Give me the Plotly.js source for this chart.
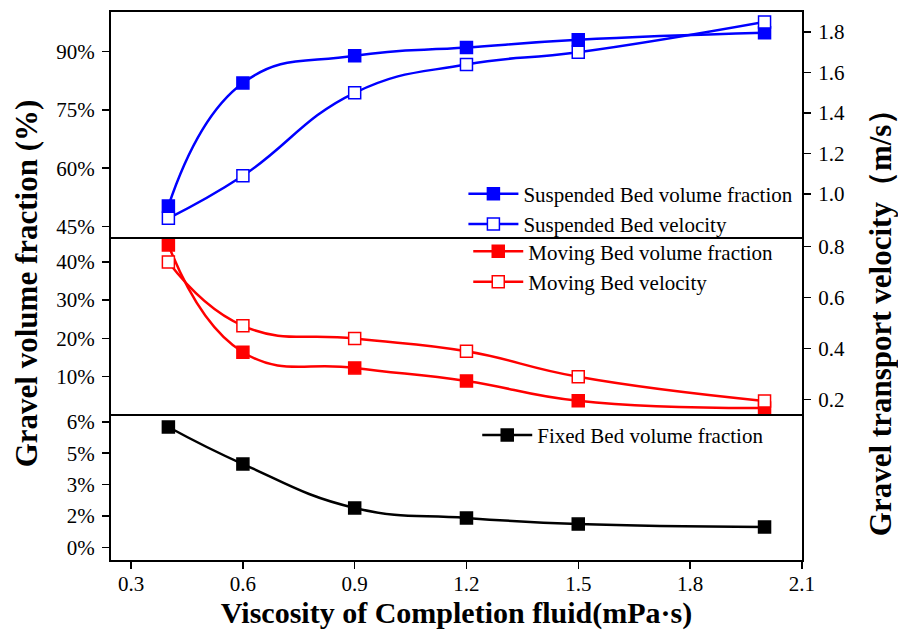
<!DOCTYPE html>
<html>
<head>
<meta charset="utf-8">
<script src="https://cdn.plot.ly/plotly-3.0.1.min.js"></script>
<style>
  html, body { margin: 0; padding: 0; background: #fff; }
  #chart { width: 898px; height: 635px; }
</style>
</head>
<body>
<div id="chart"></div>
<script>
// Completion-fluid viscosity (mPa·s)
const viscosity = [0.4, 0.6, 0.9, 1.2, 1.5, 2.0];

// Suspended bed: volume fraction and transport velocity (m/s)
const suspendedFraction = [0.503, 0.819, 0.889, 0.910, 0.930, 0.948];
const suspendedVelocity = [0.88, 1.09, 1.50, 1.64, 1.70, 1.85];

// Moving bed: volume fraction and transport velocity (m/s)
const movingFraction = [0.444, 0.164, 0.123, 0.089, 0.037, 0.018];
const movingVelocity = [0.74, 0.49, 0.44, 0.39, 0.29, 0.195];

// Fixed bed: volume fraction
const fixedFraction = [0.0575, 0.0398, 0.0188, 0.0140, 0.0111, 0.0097];

// Tick labels
const xTicks = [0.3, 0.6, 0.9, 1.2, 1.5, 1.8, 2.1];
const fixedTickVals = [0, 0.015, 0.03, 0.045, 0.06];
const fixedTickText = ['0%', '2%', '3%', '5%', '6%'];
const upperVelTicks = [1.0, 1.2, 1.4, 1.6, 1.8];
const lowerVelTicks = [0.2, 0.4, 0.6, 0.8];

const FONT = 'Liberation Serif, Times New Roman, serif';
const BLUE = '#0000ff', RED = '#ff0000', BLACK = '#000000';

function series(name, y, color, filled, xa, ya, legend) {
  return {
    type: 'scatter', mode: 'lines+markers', name: name,
    x: viscosity, y: y, xaxis: xa, yaxis: ya, legend: legend,
    line: { color: color, width: 2.5, shape: 'spline', smoothing: 1.3 },
    marker: { symbol: 'square', size: 12,
              color: filled ? color : '#ffffff',
              line: { color: color, width: 1.5 } },
    cliponaxis: false
  };
}

const traces = [
  series('Suspended Bed volume fraction', suspendedFraction, BLUE, true, 'x3', 'y3', 'legend'),
  series('Suspended Bed velocity', suspendedVelocity, BLUE, false, 'x3', 'y5', 'legend'),
  series('Moving Bed volume fraction', movingFraction, RED, true, 'x2', 'y2', 'legend2'),
  series('Moving Bed velocity', movingVelocity, RED, false, 'x2', 'y4', 'legend2'),
  series('Fixed Bed volume fraction', fixedFraction, BLACK, true, 'x', 'y', 'legend3')
];

const tickFont = { family: FONT, size: 21, color: '#000' };
const frame = { showline: true, linecolor: '#000', linewidth: 2, mirror: true,
                showgrid: false, zeroline: false };
const leftTicks = { ticks: 'outside', ticklen: 7, tickwidth: 1.5, tickcolor: '#000',
                    tickfont: tickFont, ticklabelstandoff: 3 };
const xRange = [0.246, 2.1005];

const D1 = 0.2664, D2 = 0.5889;

const legendBase = { font: { family: FONT, size: 21, color: '#000' },
                     bgcolor: 'rgba(0,0,0,0)', borderwidth: 0, itemwidth: 50,
                     xanchor: 'left', yanchor: 'top', tracegroupgap: 0, itemgap: 0 };

const layout = {
  width: 898, height: 635,
  margin: { l: 111, r: 96, t: 12, b: 75 },
  paper_bgcolor: '#ffffff', plot_bgcolor: 'rgba(0,0,0,0)',
  font: { family: FONT, color: '#000' },
  showlegend: true,
  // bottom panel axis carries the ticks; the panel borders come from the axis lines
  xaxis: Object.assign({}, frame, leftTicks, {
    mirror: false, range: xRange, anchor: 'y', tickvals: xTicks, tickformat: '.1f',
    ticklabelstandoff: -3,
    title: { text: 'Viscosity of Completion fluid(mPa·s)', standoff: 2,
             font: { family: FONT, size: 30, color: '#000', weight: 'bold' } }
  }),
  xaxis2: Object.assign({}, frame, { mirror: false, range: xRange, anchor: 'y2',
                                     showticklabels: false, ticks: '' }),
  xaxis3: Object.assign({}, frame, { range: xRange, anchor: 'y3',
                                     showticklabels: false, ticks: '' }),
  yaxis: Object.assign({}, frame, leftTicks, {
    domain: [0, D1], anchor: 'x', range: [-0.00607, 0.0637],
    tickvals: fixedTickVals, ticktext: fixedTickText
  }),
  yaxis2: Object.assign({}, frame, leftTicks, {
    domain: [D1, D2], anchor: 'x2', range: [0.0026, 0.464],
    tickvals: [0.1, 0.2, 0.3, 0.4], tickformat: '.0%'
  }),
  yaxis3: Object.assign({}, frame, leftTicks, {
    domain: [D2, 1], anchor: 'x3', range: [0.4225, 1.0014],
    tickvals: [0.45, 0.6, 0.75, 0.9], tickformat: '.0%'
  }),
  yaxis4: Object.assign({}, leftTicks, {
    overlaying: 'y2', anchor: 'x2', side: 'right', range: [0.144, 0.837],
    tickvals: lowerVelTicks, tickformat: '.1f', showgrid: false, zeroline: false,
    showline: true, linecolor: '#000', linewidth: 2
  }),
  yaxis5: Object.assign({}, leftTicks, {
    overlaying: 'y3', anchor: 'x3', side: 'right', range: [0.786, 1.899],
    tickvals: upperVelTicks, tickformat: '.1f', showgrid: false, zeroline: false,
    showline: true, linecolor: '#000', linewidth: 2
  }),
  legend: Object.assign({}, legendBase, { x: 0.51, y: 0.705 }),
  legend2: Object.assign({}, legendBase, { x: 0.517, y: 0.60 }),
  legend3: Object.assign({}, legendBase, { x: 0.53, y: 0.265 }),
  annotations: [
    { text: 'Gravel volume fraction (%)', xref: 'paper', yref: 'paper',
      x: -0.123, y: 0.505, xanchor: 'center', yanchor: 'middle', textangle: -90,
      showarrow: false, font: { family: FONT, size: 31, color: '#000', weight: 'bold' } },
    { text: 'Gravel transport velocity（m/s）', xref: 'paper', yref: 'paper',
      x: 1.113, y: 0.447, xanchor: 'center', yanchor: 'middle', textangle: -90,
      showarrow: false, font: { family: FONT, size: 31, color: '#000', weight: 'bold' } }
  ]
};

Plotly.newPlot('chart', traces, layout, { staticPlot: true, displayModeBar: false });
</script>
</body>
</html>
